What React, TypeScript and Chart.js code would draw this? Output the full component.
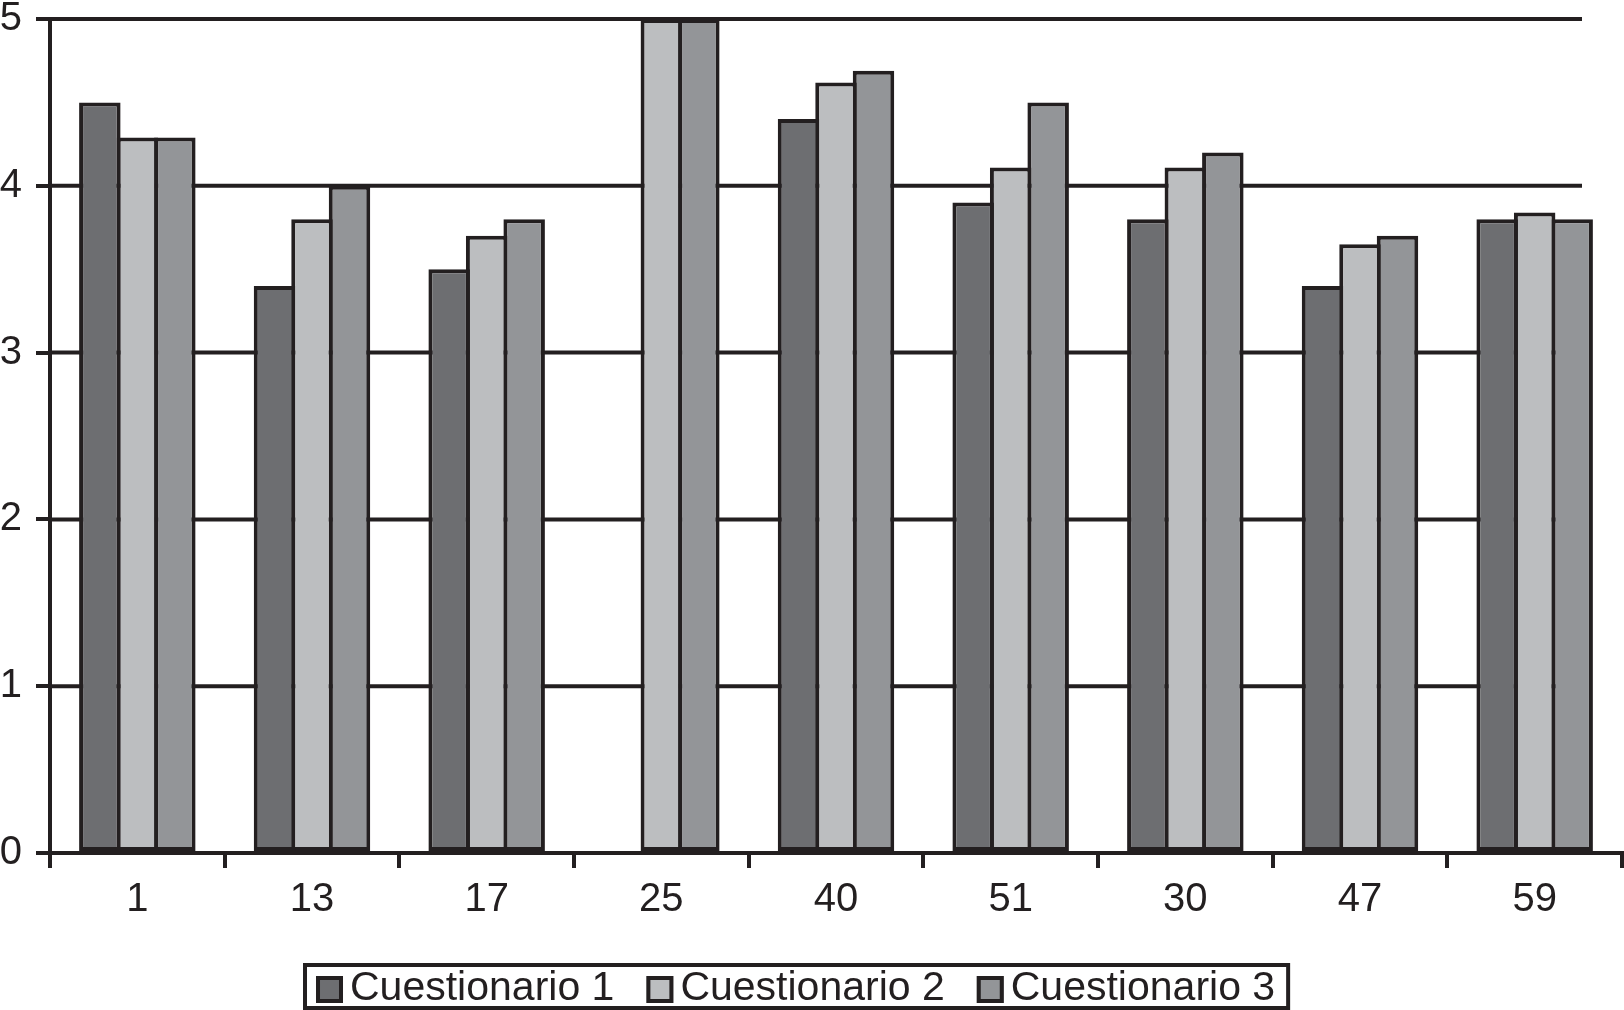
import React, { useEffect, useRef } from 'react';
import { Chart, registerables } from 'chart.js';

Chart.register(...registerables);

const categories = ['1', '13', '17', '25', '40', '51', '30', '47', '59'];
const cuestionario1 = [4.5, 3.4, 3.5, null, 4.4, 3.9, 3.8, 3.4, 3.8];
const cuestionario2 = [4.29, 3.8, 3.7, 5, 4.62, 4.11, 4.11, 3.65, 3.84];
const cuestionario3 = [4.29, 4.0, 3.8, 5, 4.69, 4.5, 4.2, 3.7, 3.8];
const seriesLabels = ['Cuestionario 1', 'Cuestionario 2', 'Cuestionario 3'];
const seriesColors = ['#6d6e71', '#bcbec0', '#939598'];
const yMin = 0;
const yMax = 5;
const yStep = 1;

const INK = '#231f20';
const LW = 4;
const FONT_FAMILY = '"Liberation Sans", Arial, Helvetica, sans-serif';

const gridPlugin = {
  id: 'customGrid',
  beforeDatasetsDraw(chart: any) {
    const { ctx, chartArea } = chart;
    const y = chart.scales.y;
    ctx.save();
    ctx.strokeStyle = INK;
    ctx.lineWidth = LW;
    y.ticks.forEach((t: any) => {
      if (t.value === yMin) return;
      const py = y.getPixelForValue(t.value);
      ctx.beginPath();
      ctx.moveTo(chartArea.left, py);
      ctx.lineTo(chartArea.right - 40, py);
      ctx.stroke();
    });
    ctx.restore();
  },
};

const boxedLegend = {
  id: 'boxedLegend',
  afterDraw(chart: any) {
    const ctx = chart.ctx;
    ctx.save();
    ctx.font = `41px ${FONT_FAMILY}`;
    const sq = 27;
    const gapText = 7;
    const gapItem = 32;
    const padL = 13;
    const padR = 15;
    const items = chart.data.datasets.map((ds: any) => ({
      label: ds.label,
      color: ds.backgroundColor,
      w: ctx.measureText(ds.label).width,
    }));
    const total =
      padL +
      items.reduce((a: number, it: any) => a + sq + gapText + it.w, 0) +
      gapItem * (items.length - 1) +
      padR;
    const cx = chart.width * 0.4905;
    const left = cx - total / 2;
    const top = 963;
    const bottom = 1010;
    ctx.strokeStyle = INK;
    ctx.lineWidth = 4;
    ctx.strokeRect(left + 2, top + 2, total - 4, bottom - top - 4);
    let x = left + padL;
    ctx.textBaseline = 'alphabetic';
    ctx.textAlign = 'left';
    items.forEach((it: any) => {
      ctx.fillStyle = it.color;
      ctx.fillRect(x, 976, sq, sq);
      ctx.lineWidth = 4;
      ctx.strokeRect(x + 2, 978, sq - 4, sq - 4);
      ctx.fillStyle = INK;
      ctx.fillText(it.label, x + sq + gapText, 1000);
      x += sq + gapText + it.w + gapItem;
    });
    ctx.restore();
  },
};

export default function App() {
  const canvasRef = useRef<HTMLCanvasElement | null>(null);

  useEffect(() => {
    if (!canvasRef.current) return;
    const seriesData = [cuestionario1, cuestionario2, cuestionario3];
    const chart = new Chart(canvasRef.current, {
      type: 'bar',
      data: {
        labels: categories,
        datasets: seriesLabels.map((label, i) => ({
          label,
          data: seriesData[i],
          backgroundColor: seriesColors[i],
          borderColor: INK,
          borderWidth: LW,
          borderSkipped: false,
          categoryPercentage: 0.644,
          barPercentage: 1.107,
        })),
      },
      options: {
        animation: false,
        responsive: false,
        maintainAspectRatio: false,
        layout: { padding: { top: 19, right: 2, bottom: 77, left: 0 } },
        plugins: {
          legend: { display: false },
          tooltip: { enabled: false },
        },
        scales: {
          x: {
            grid: {
              display: true,
              drawOnChartArea: false,
              drawTicks: true,
              tickLength: 15,
              lineWidth: LW,
              color: INK,
              offset: true,
            },
            border: { display: true, color: INK, width: LW },
            ticks: {
              font: { size: 40, family: FONT_FAMILY },
              color: INK,
              padding: 8,
              maxRotation: 0,
            },
            afterFit: (s: any) => {
              s.height = 80;
              s.paddingLeft = 0;
              s.paddingRight = 0;
            },
          },
          y: {
            min: yMin,
            max: yMax,
            ticks: {
              stepSize: yStep,
              font: { size: 40, family: FONT_FAMILY },
              color: INK,
              padding: 14,
            },
            grid: {
              display: true,
              drawOnChartArea: false,
              drawTicks: true,
              tickLength: 14,
              lineWidth: LW,
              color: INK,
            },
            border: { display: true, color: INK, width: LW },
            afterFit: (s: any) => {
              s.width = 50;
              s.paddingTop = 0;
              s.paddingBottom = 0;
            },
          },
        },
      },
      plugins: [gridPlugin, boxedLegend],
    });
    return () => chart.destroy();
  }, []);

  return (
    <div style={{ position: 'absolute', left: 0, top: 0, width: 1624, height: 1010, background: '#fff' }}>
      <canvas ref={canvasRef} width={1624} height={1010} style={{ display: 'block' }} />
    </div>
  );
}
